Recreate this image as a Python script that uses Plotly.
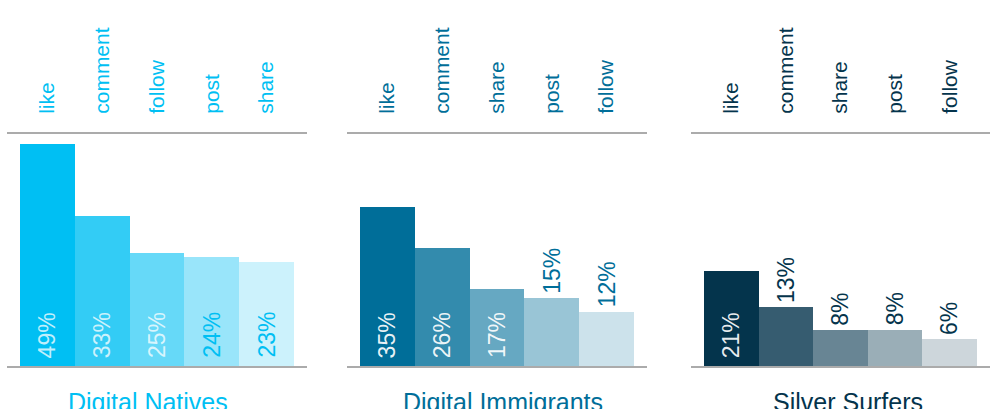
import plotly.graph_objects as go

# data
titles = ["Digital Natives", "Digital Immigrants", "Silver Surfers"]
cats1 = ["like", "comment", "follow", "post", "share"]
vals1 = [49, 33, 25, 24, 23]
cats2 = ["like", "comment", "share", "post", "follow"]
vals2 = [35, 26, 17, 15, 12]
cats3 = ["like", "comment", "share", "post", "follow"]
vals3 = [21, 13, 8, 8, 6]

groups = [(cats1, vals1), (cats2, vals2), (cats3, vals3)]
base_colors = ["#00BFF3", "#006E99", "#04344C"]
bar_colors = [
    ["#00BFF3", "#33CCF5", "#66D9F8", "#99E5FA", "#CCF2FC"],
    ["#006E99", "#338BAD", "#66A8C2", "#99C5D6", "#CCE2EB"],
    ["#04344C", "#365C70", "#688594", "#9AAEB7", "#CDD6DB"],
]

W, H = 990, 409
doms = [(7, 307), (347, 647), (691, 991)]
title_x = [148, 503, 848]
ymax = 51.2
FONT = "Liberation Sans, Arial"

fig = go.Figure()
annotations = []
for i, (cats, vals) in enumerate(groups):
    xa = "x" if i == 0 else f"x{i+1}"
    ya = "y" if i == 0 else f"y{i+1}"
    fig.add_trace(go.Bar(x=cats, y=vals, xaxis=xa, yaxis=ya,
                         marker=dict(color=bar_colors[i], line=dict(width=0)),
                         width=1, hoverinfo="skip", showlegend=False))
    d0, d1 = doms[i]
    key = "" if i == 0 else str(i + 1)
    fig.update_layout(**{
        "xaxis" + key: dict(domain=[d0 / W, min(d1 / W, 1)], type="category",
                            range=[-0.737, 4.737], side="top", tickangle=-90,
                            showline=True, mirror=True, linecolor="#ABABAB", linewidth=2,
                            showgrid=False, ticks="", ticklabelstandoff=14,
                            tickfont=dict(size=21, color=base_colors[i], family=FONT),
                            anchor=ya, fixedrange=True),
        "yaxis" + key: dict(domain=[0, 1], range=[0, ymax], visible=False,
                            anchor=xa, fixedrange=True),
    })
    for j, (c, v) in enumerate(zip(cats, vals)):
        inside = v >= 16
        if inside:
            col = "rgba(255,255,255,0.75)" if j < 3 else base_colors[i]
            if i > 0:
                col = "rgba(255,255,255,0.92)"
            annotations.append(dict(x=c, y=0, xref=xa, yref=ya, text=f"{v}%",
                                    textangle=-90, showarrow=False, yanchor="bottom",
                                    yshift=6, font=dict(size=23, color=col, family=FONT)))
        else:
            annotations.append(dict(x=c, y=v, xref=xa, yref=ya, text=f"{v}%",
                                    textangle=-90, showarrow=False, yanchor="bottom",
                                    yshift=2, font=dict(size=23, color=base_colors[i], family=FONT)))
    annotations.append(dict(x=title_x[i] / W, y=-(386 - 366) / 232, xref="paper", yref="paper",
                            text=titles[i], showarrow=False, xanchor="center", yanchor="top",
                            font=dict(size=25, color=base_colors[i], family=FONT)))

fig.update_layout(width=W, height=H, margin=dict(l=0, r=0, t=134, b=43),
                  paper_bgcolor="white", plot_bgcolor="white", bargap=0,
                  annotations=annotations)

fig.write_html("out.html", config={"displayModeBar": False},
               post_script="document.body.style.margin='0px';")
